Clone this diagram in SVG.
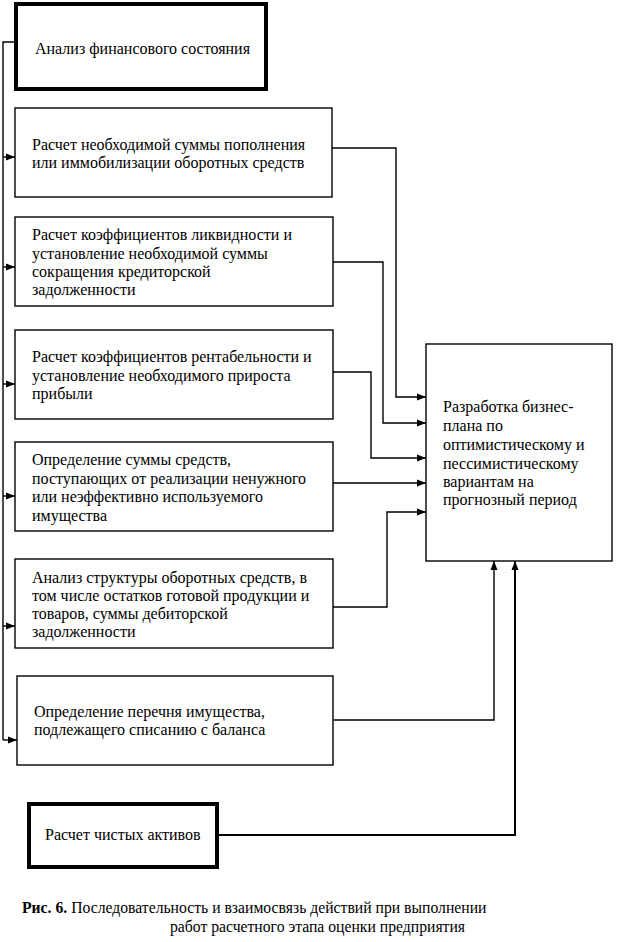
<svg xmlns="http://www.w3.org/2000/svg" width="621" height="942" viewBox="0 0 621 942">
<style>
  .box{fill:#fff;stroke:#000;stroke-width:1.4}
  .thick{fill:#fff;stroke:#000;stroke-width:4}
  .t{font-family:"Liberation Serif","Times New Roman",serif;font-size:16px;fill:#000}
  .cap{font-family:"Liberation Serif","Times New Roman",serif;font-size:15.7px;fill:#000}
  .c{fill:none;stroke:#000;stroke-width:1.4}
</style>
<defs>
  <marker id="ah" markerUnits="userSpaceOnUse" markerWidth="10" markerHeight="8" refX="9" refY="4" orient="auto">
    <path d="M0,0.5 L9,4 L0,7.5 Z" fill="#000"/>
  </marker>
</defs>
<rect width="621" height="942" fill="#fff"/>
<g id="connectors">
  <polyline class="c" points="16,42 3,42 3,740"/>
  <line class="c" x1="3" y1="157" x2="15" y2="157" marker-end="url(#ah)"/>
  <line class="c" x1="3" y1="267" x2="15" y2="267" marker-end="url(#ah)"/>
  <line class="c" x1="3" y1="384" x2="15" y2="384" marker-end="url(#ah)"/>
  <line class="c" x1="3" y1="496" x2="15" y2="496" marker-end="url(#ah)"/>
  <line class="c" x1="3" y1="626" x2="15" y2="626" marker-end="url(#ah)"/>
  <line class="c" x1="3" y1="740" x2="17" y2="740" marker-end="url(#ah)"/>
  <polyline class="c" points="332,148 396,148 396,397 426,397" marker-end="url(#ah)"/>
  <polyline class="c" points="333,262 383,262 383,423 426,423" marker-end="url(#ah)"/>
  <polyline class="c" points="333,372 371,372 371,458 426,458" marker-end="url(#ah)"/>
  <polyline class="c" points="333,483 426,483" marker-end="url(#ah)"/>
  <polyline class="c" points="333,607 387,607 387,512 426,512" marker-end="url(#ah)"/>
  <polyline class="c" points="334,720 494,720 494,561" marker-end="url(#ah)"/>
  <polyline class="c" points="219,835 515,835 515,561" marker-end="url(#ah)" style="stroke-width:2"/>
</g>
<g id="n0">
  <rect class="thick" x="16" y="4" width="250" height="85"/>
  <text class="t" x="35" y="54">Анализ финансового состояния</text>
</g>
<g id="n1">
  <rect class="box" x="15" y="108" width="317" height="89"/>
  <text class="t" x="32" y="150">Расчет необходимой суммы пополнения</text>
  <text class="t" x="32" y="168">или иммобилизации оборотных средств</text>
</g>
<g id="n2">
  <rect class="box" x="15" y="217" width="318" height="89"/>
  <text class="t" x="32" y="240">Расчет коэффициентов ликвидности и</text>
  <text class="t" x="32" y="259">установление необходимой суммы</text>
  <text class="t" x="32" y="277">сокращения кредиторской</text>
  <text class="t" x="32" y="295">задолженности</text>
</g>
<g id="n3">
  <rect class="box" x="15" y="330" width="318" height="89"/>
  <text class="t" x="32" y="362">Расчет коэффициентов рентабельности и</text>
  <text class="t" x="32" y="381">установление необходимого прироста</text>
  <text class="t" x="32" y="399">прибыли</text>
</g>
<g id="n4">
  <rect class="box" x="15" y="442" width="318" height="89"/>
  <text class="t" x="32" y="465">Определение суммы средств,</text>
  <text class="t" x="32" y="484">поступающих от реализации ненужного</text>
  <text class="t" x="32" y="502">или неэффективно используемого</text>
  <text class="t" x="32" y="521">имущества</text>
</g>
<g id="n5">
  <rect class="box" x="15" y="559" width="318" height="89"/>
  <text class="t" x="32" y="583">Анализ структуры оборотных средств, в</text>
  <text class="t" x="32" y="601">том числе остатков готовой продукции и</text>
  <text class="t" x="32" y="619">товаров, суммы дебиторской</text>
  <text class="t" x="32" y="637">задолженности</text>
</g>
<g id="n6">
  <rect class="box" x="17" y="676" width="316" height="89"/>
  <text class="t" x="34" y="717">Определение перечня имущества,</text>
  <text class="t" x="34" y="735">подлежащего списанию с баланса</text>
</g>
<g id="n7">
  <rect class="box" x="426" y="344" width="186" height="217"/>
  <text class="t" x="443" y="412">Разработка бизнес-</text>
  <text class="t" x="443" y="431">плана по</text>
  <text class="t" x="443" y="450">оптимистическому и</text>
  <text class="t" x="443" y="469">пессимистическому</text>
  <text class="t" x="443" y="487">вариантам на</text>
  <text class="t" x="443" y="505">прогнозный период</text>
</g>
<g id="n8">
  <rect class="thick" x="29" y="804" width="188" height="63"/>
  <text class="t" x="45" y="840">Расчет чистых активов</text>
</g>
<g id="caption">
  <text class="cap" x="22" y="913"><tspan font-weight="bold">Рис. 6.</tspan> Последовательность и взаимосвязь действий при выполнении</text>
  <text class="cap" x="170" y="932">работ расчетного этапа оценки предприятия</text>
</g>
</svg>
